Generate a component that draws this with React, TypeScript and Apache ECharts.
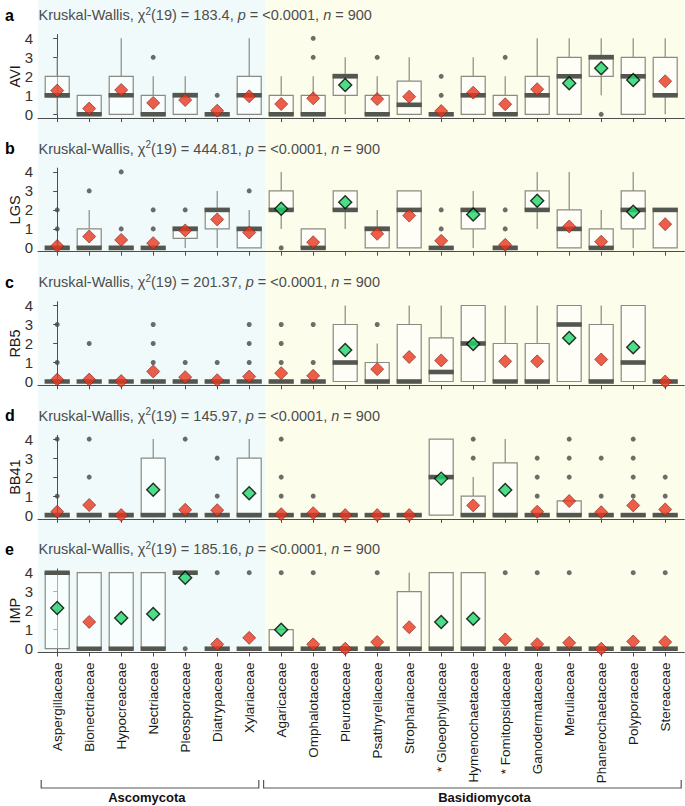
import React, { useEffect, useRef } from "react";
import * as echarts from "echarts";

// ---------------- DATA ----------------
const families = [
  "Aspergillaceae", "Bionectriaceae", "Hypocreaceae", "Nectriaceae", "Pleosporaceae",
  "Diatrypaceae", "Xylariaceae", "Agaricaceae", "Omphalotaceae", "Pleurotaceae",
  "Psathyrellaceae", "Strophariaceae", "* Gloeophyllaceae", "Hymenochaetaceae",
  "* Fomitopsidaceae", "Ganodermataceae", "Meruliaceae", "Phanerochaetaceae",
  "Polyporaceae", "Stereaceae",
];
const phyla = ["Ascomycota", "Basidiomycota"];
const panelLetters = ["a", "b", "c", "d", "e"];
const variables = ["AVI", "LGS", "RB5", "BB41", "IMP"];
const chiSquared = ["183.4", "444.81", "201.37", "145.97", "185.16"];
const dfValue = "19";
const pValue = "<0.0001";
const nValue = "900";
const yTicks = [0, 1, 2, 3, 4];

// boxes: [min, q1, median, q3, max]
const aviBoxes = [
  [0, 0.9, 1, 2, 3], [0, 0, 0, 1, 1], [0, 0, 1, 2, 4], [0, 0, 0, 1, 2], [0, 0, 1, 1.1, 2],
  [0, 0, 0, 0, 0], [0, 0, 1, 2, 4], [0, 0, 0, 1, 2], [0, 0, 0, 1, 2], [0, 1, 2, 2.1, 3],
  [0, 0, 0, 1, 2], [0, 0, 0.5, 1.75, 3], [0, 0, 0, 0, 0], [0, 0, 1, 2, 3], [0, 0, 0, 1, 2],
  [0, 0, 1, 2, 4], [0, 0, 2, 3, 4], [1, 2, 3, 3.1, 4], [0, 0, 2, 3, 4], [0, 1, 1, 3, 4],
];
const aviOutliers = [[3, 3], [5, 1], [8, 3], [8, 4], [10, 3], [12, 1], [12, 2], [14, 3], [17, 0]];
const aviMeans = [1.25, 0.3, 1.28, 0.6, 0.75, 0.19, 0.95, 0.54, 0.84, 1.54, 0.8, 0.93, 0.17, 1.14, 0.53, 1.32, 1.63, 2.42, 1.8, 1.74];
const aviSignificant = [9, 16, 17, 18];

const lgsBoxes = [
  [0, 0, 0, 0, 0], [0, 0, 0, 1, 2], [0, 0, 0, 0, 0], [0, 0, 0, 0, 0], [0, 0.5, 1, 1.1, 1.1],
  [0, 1, 2, 2.05, 3], [0, 0, 1, 1.05, 2], [1, 2, 2, 3, 4], [0, 0, 0, 1, 1], [1, 2, 2, 3, 3],
  [0, 0, 1, 1.1, 2], [0, 0, 2, 3, 3], [0, 0, 0, 0, 0], [0, 1, 2, 2.05, 3], [0, 0, 0, 0, 0],
  [1, 2, 2, 3, 4], [0, 0, 1, 2, 4], [0, 0, 0, 1, 2], [0, 1, 2, 3, 4], [0, 0, 2, 2.05, 2.05],
];
const lgsOutliers = [[0, 1], [0, 2], [1, 3], [2, 1], [2, 4], [3, 1], [3, 2], [4, 2], [6, 3], [7, 0], [12, 1], [12, 2], [14, 1], [14, 2]];
const lgsMeans = [0.1, 0.6, 0.42, 0.25, 0.92, 1.5, 0.81, 2.06, 0.3, 2.4, 0.74, 1.7, 0.37, 1.76, 0.16, 2.48, 1.13, 0.33, 1.9, 1.25];
const lgsSignificant = [7, 9, 13, 15, 18];

const rb5Boxes = [
  [0, 0, 0, 0, 0], [0, 0, 0, 0, 0], [0, 0, 0, 0, 0], [0, 0, 0, 0, 0], [0, 0, 0, 0, 0],
  [0, 0, 0, 0, 0], [0, 0, 0, 0, 0], [0, 0, 0, 0, 0], [0, 0, 0, 0, 0], [0, 0, 1, 3, 4],
  [0, 0, 0, 1, 2], [0, 0, 0, 3, 4], [0, 0, 0.5, 2.3, 4], [0, 0, 2, 4, 4], [0, 0, 0, 2, 4],
  [0, 0, 0, 2, 4], [0, 0, 3, 4, 4], [0, 0, 0, 3, 4], [0, 0, 1, 4, 4], [0, 0, 0, 0, 0],
];
const rb5Outliers = [[0, 1], [0, 3], [1, 2], [3, 1], [3, 2], [3, 3], [4, 1], [5, 1], [6, 1], [6, 2], [6, 3], [7, 1], [7, 2], [7, 3], [8, 1], [8, 3], [10, 3]];
const rb5Means = [0.1, 0.1, 0.02, 0.53, 0.23, 0.07, 0.26, 0.44, 0.3, 1.66, 0.65, 1.29, 1.11, 1.97, 1.06, 1.06, 2.29, 1.16, 1.8, 0.0];
const rb5Significant = [9, 13, 16, 18];

const bb41Boxes = [
  [0, 0, 0, 0, 0], [0, 0, 0, 0, 0], [0, 0, 0, 0, 0], [0, 0, 0, 3, 4], [0, 0, 0, 0, 0],
  [0, 0, 0, 0, 0], [0, 0, 0, 3, 4], [0, 0, 0, 0, 0], [0, 0, 0, 0, 0], [0, 0, 0, 0, 0],
  [0, 0, 0, 0, 0], [0, 0, 0, 0, 0], [0, 0, 2, 4, 4], [0, 0, 0, 1, 2], [0, 0, 0, 2.75, 4],
  [0, 0, 0, 0, 0], [0, 0, 0, 0.75, 0.75], [0, 0, 0, 0, 0], [0, 0, 0, 0, 0], [0, 0, 0, 0, 0],
];
const bb41Outliers = [[0, 1], [0, 4], [1, 2], [1, 4], [4, 4], [5, 1], [5, 3], [7, 1], [7, 2], [7, 4], [8, 1], [13, 3], [13, 4], [15, 1], [15, 2], [15, 3], [16, 2], [16, 3], [16, 4], [17, 1], [17, 3], [18, 1], [18, 2], [18, 3], [18, 4], [19, 1], [19, 2]];
const bb41Means = [0.18, 0.53, 0.0, 1.34, 0.28, 0.26, 1.15, 0.05, 0.1, 0.0, 0.0, 0.0, 1.92, 0.51, 1.32, 0.18, 0.74, 0.15, 0.51, 0.3];
const bb41Significant = [3, 6, 12, 14];

const impBoxes = [
  [0, 0, 4, 4, 4], [0, 0, 0, 4, 4], [0, 0, 0, 4, 4], [0, 0, 0, 4, 4], [4, 4, 4, 4, 4],
  [0, 0, 0, 0, 0], [0, 0, 0, 0, 0], [0, 0, 0, 1, 1], [0, 0, 0, 0, 0], [0, 0, 0, 0, 0],
  [0, 0, 0, 0, 0], [0, 0, 0, 3, 4], [0, 0, 0, 4, 4], [0, 0, 0, 4, 4], [0, 0, 0, 0, 0],
  [0, 0, 0, 0, 0], [0, 0, 0, 0, 0], [0, 0, 0, 0, 0], [0, 0, 0, 0, 0], [0, 0, 0, 0, 0],
];
const impOutliers = [[4, 0], [5, 4], [6, 4], [7, 4], [8, 4], [10, 4], [14, 4], [15, 4], [16, 4], [18, 4], [19, 4]];
const impMeans = [2.14, 1.41, 1.62, 1.83, 3.74, 0.23, 0.57, 1.0, 0.23, 0.0, 0.35, 1.13, 1.41, 1.58, 0.49, 0.24, 0.31, 0.0, 0.38, 0.35];
const impSignificant = [0, 2, 3, 4, 7, 12, 13];

// phylum split (category index ranges, for the shading, brackets and labels)
const phylumRanges = [[-0.5, 6.3], [6.45, 19.5]];
const phylumLabelAt = [2.8, 13.35];
const shadeSplit = 6.5;

// ---------------- STYLE / LAYOUT ----------------
const FONT = "'Liberation Sans', Arial, Helvetica, sans-serif";
const W = 685;
const H = 806;
const gridLeft = 38;
const gridW = 646.4;
const gridTop0 = 34.5;
const gridStep = 133.6;
const gridH = 83.6;
const xMin = -0.6;
const xMax = 19.6;
const yNameX = 14.5;
const boxStroke = "#8a8a80";
const medianColor = "#53574f";
const outlierColor = "#474747";
const redFill = "#e8341f";
const greenFill = "#1fd46b";
const cyanBg = "#f0fafa";
const yellowBg = "#fdfdec";

const panels = [
  { boxes: aviBoxes, outliers: aviOutliers, means: aviMeans, sig: aviSignificant },
  { boxes: lgsBoxes, outliers: lgsOutliers, means: lgsMeans, sig: lgsSignificant },
  { boxes: rb5Boxes, outliers: rb5Outliers, means: rb5Means, sig: rb5Significant },
  { boxes: bb41Boxes, outliers: bb41Outliers, means: bb41Means, sig: bb41Significant },
  { boxes: impBoxes, outliers: impOutliers, means: impMeans, sig: impSignificant },
];

const catIdx = families.map((_, i) => i);

function renderBox(params: any, api: any) {
  const x = api.value(0);
  const mn = api.value(1);
  const q1 = api.value(2);
  const md = api.value(3);
  const q3 = api.value(4);
  const mx = api.value(5);
  const bw = api.size([1, 0])[0] * 0.75;
  const cx = api.coord([x, 0])[0];
  const y = (v: number) => api.coord([x, v])[1];
  const children: any[] = [];
  const ls = { stroke: boxStroke, lineWidth: 1.2 };
  if (mx > q3) children.push({ type: "line", shape: { x1: cx, y1: y(q3), x2: cx, y2: y(mx) }, style: ls });
  if (mn < q1) children.push({ type: "line", shape: { x1: cx, y1: y(q1), x2: cx, y2: y(mn) }, style: ls });
  children.push({
    type: "rect",
    shape: { x: cx - bw / 2, y: y(q3), width: bw, height: y(q1) - y(q3) },
    style: { fill: "rgba(255,255,255,0.55)", stroke: boxStroke, lineWidth: 1.2 },
  });
  children.push({
    type: "rect",
    shape: { x: cx - bw / 2 - 0.6, y: y(md) - 2.3, width: bw + 1.2, height: 4.6 },
    style: { fill: medianColor },
  });
  return { type: "group", children };
}

export default function App() {
  const ref = useRef<HTMLDivElement>(null);

  useEffect(() => {
    if (!ref.current) return;
    const chart = echarts.init(ref.current, null, { renderer: "svg", width: W, height: H });

    const grids = panels.map((_, i) => ({
      left: gridLeft,
      top: gridTop0 + i * gridStep,
      width: gridW,
      height: gridH,
      containLabel: false,
      outerBoundsMode: "none",
    }));

    const xAxes = panels.map((_, i) => ({
      type: "value",
      gridIndex: i,
      min: xMin,
      max: xMax,
      splitLine: { show: false },
      axisLine: { show: true, onZero: false, lineStyle: { color: "#4d4d4d", width: 1 } },
      axisTick: { show: true, customValues: catIdx, length: 4, lineStyle: { color: "#4d4d4d" } },
      axisLabel:
        i === panels.length - 1
          ? {
              show: true,
              customValues: catIdx,
              rotate: 90,
              margin: 10,
              fontSize: 13.5,
              fontFamily: FONT,
              color: "#1a1a1a",
              formatter: (v: number) => families[Math.round(v)],
            }
          : { show: false },
    }));

    const yAxes = panels.map((_, i) => ({
      type: "value",
      gridIndex: i,
      min: -0.2,
      max: 4.2,
      splitLine: { show: false },
      axisLine: { show: true, lineStyle: { color: "#4d4d4d", width: 1 } },
      axisTick: { show: true, customValues: yTicks, length: 4, lineStyle: { color: "#4d4d4d" } },
      axisLabel: { customValues: yTicks, fontSize: 15, fontFamily: FONT, color: "#333", margin: 5 },
    }));

    const series: any[] = [];
    panels.forEach((p, i) => {
      series.push({
        type: "custom",
        xAxisIndex: i,
        yAxisIndex: i,
        z: 2,
        data: p.boxes.map((b, k) => [k, ...b]),
        encode: { x: 0, y: [1, 2, 3, 4, 5] },
        renderItem: renderBox,
      });
      series.push({
        type: "scatter",
        xAxisIndex: i,
        yAxisIndex: i,
        z: 3,
        symbolSize: 5,
        itemStyle: { color: outlierColor },
        data: p.outliers,
      });
      series.push({
        type: "scatter",
        xAxisIndex: i,
        yAxisIndex: i,
        z: 4,
        symbol: "diamond",
        symbolSize: 13,
        data: p.means.map((m, k) => {
          const sig = p.sig.includes(k);
          return {
            value: [k, m],
            itemStyle: sig
              ? { color: greenFill, borderColor: "#000", borderWidth: 1.4 }
              : { color: redFill, borderColor: "#7a2415", borderWidth: 0.8 },
          };
        }),
      });
    });

    chart.setOption({
      animation: false,
      grid: grids,
      xAxis: xAxes,
      yAxis: yAxes,
      series,
    });

    // background shading, panel titles, axis names, brackets
    const px = (v: number) => chart.convertToPixel({ xAxisIndex: 0 }, v) as number;
    const xLeft = px(xMin);
    const xSplit = px(shadeSplit);
    const xRight = px(xMax);
    const yBottom = gridTop0 + (panels.length - 1) * gridStep + gridH;

    const graphics: any[] = [
      { type: "rect", z: -10, shape: { x: xLeft, y: 0, width: xSplit - xLeft, height: yBottom }, style: { fill: cyanBg } },
      { type: "rect", z: -10, shape: { x: xSplit, y: 0, width: xRight - xSplit, height: yBottom }, style: { fill: yellowBg } },
    ];

    panels.forEach((_, i) => {
      const top = gridTop0 + i * gridStep;
      const ty = top - 19.5;
      graphics.push({
        type: "text",
        x: 5,
        y: ty,
        style: { text: panelLetters[i], fontSize: 16, fontWeight: "bold", fontFamily: FONT, fill: "#000", verticalAlign: "middle" },
      });
      graphics.push({
        type: "text",
        x: gridLeft + 0.5,
        y: ty,
        style: {
          text:
            "{t|Kruskal-Wallis, χ}{s|2}{t|(" + dfValue + ") = " + chiSquared[i] + ", }{i|p}{t| = " + pValue + ", }{i|n}{t| = " + nValue + "}",
          verticalAlign: "middle",
          fontFamily: FONT,
          rich: {
            t: { fontSize: 14.5, fontFamily: FONT, fill: "#4d4d4d", lineHeight: 18 },
            i: { fontSize: 14.5, fontFamily: FONT, fill: "#4d4d4d", fontStyle: "italic", lineHeight: 18 },
            s: { fontSize: 10, fontFamily: FONT, fill: "#4d4d4d", verticalAlign: "top", lineHeight: 10 },
          },
        },
      });
      const yMid = chart.convertToPixel({ yAxisIndex: i }, 2) as number;
      graphics.push({
        type: "text",
        x: yNameX,
        y: yMid,
        rotation: Math.PI / 2,
        style: {
          text: variables[i],
          fontSize: 14.5,
          fontFamily: FONT,
          fill: "#1a1a1a",
          align: "center",
          verticalAlign: "middle",
        },
      });
    });

    const bTop = 780;
    const bBot = 788;
    phylumRanges.forEach((r, k) => {
      const a = px(r[0]);
      const b = px(r[1]);
      graphics.push({
        type: "polyline",
        shape: { points: [[a, bTop], [a, bBot], [b, bBot], [b, bTop]] },
        style: { stroke: "#555", lineWidth: 1.2, fill: null },
      });
      graphics.push({
        type: "text",
        x: px(phylumLabelAt[k]),
        y: 797,
        style: { text: phyla[k], fontSize: 13, fontWeight: "bold", fontFamily: FONT, fill: "#111", align: "center", verticalAlign: "middle" },
      });
    });

    chart.setOption({ graphic: graphics });

    return () => chart.dispose();
  }, []);

  return <div ref={ref} style={{ position: "absolute", left: 0, top: 0, width: W, height: H }} />;
}
